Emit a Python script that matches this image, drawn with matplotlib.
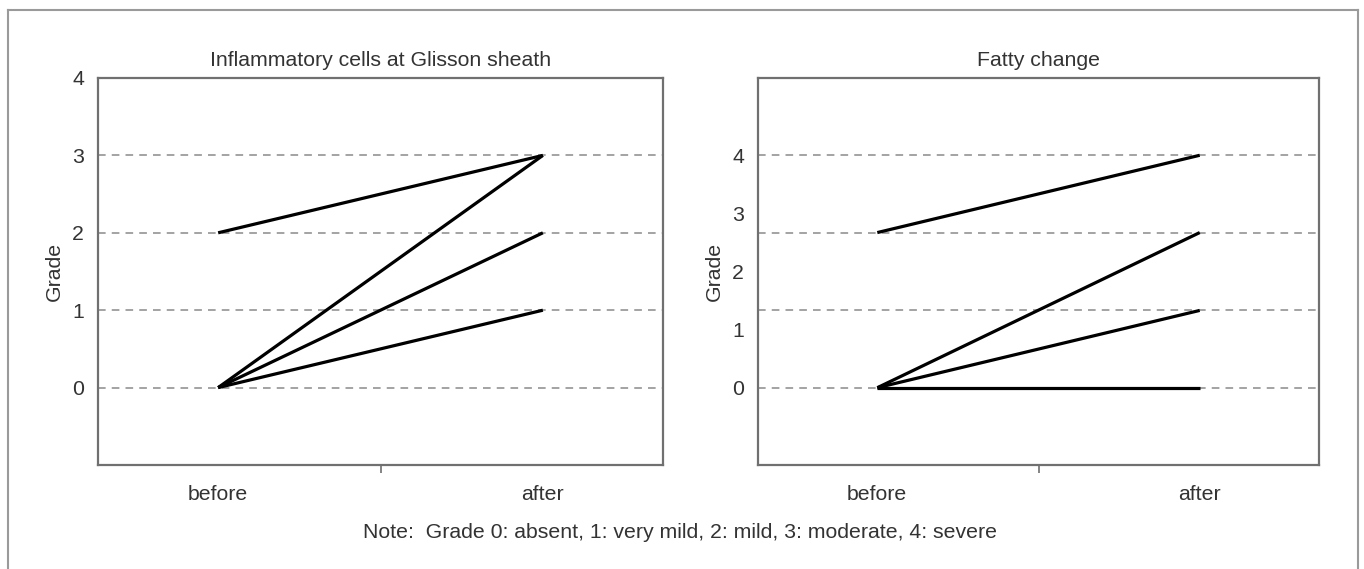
import matplotlib.pyplot as plt
from matplotlib.lines import Line2D

plt.rcParams['font.family'] = ['Liberation Sans', 'DejaVu Sans']

stages = ['before', 'after']

# Inflammatory cells at Glisson sheath (grade)
infl_before = [2, 0, 0, 0]
infl_after = [3, 3, 2, 1]
infl_grid = [0, 1, 2, 3]
infl_ticks = [0, 1, 2, 3, 4]

# Fatty change (read on the printed tick scale, which is offset from the gridlines)
fat_before = [2.67, 0, 0, 0]
fat_after = [4, 2.67, 1.33, 0]
fat_grid = [0, 1.33, 2.67, 4]
fat_ticks = [0, 1, 2, 3, 4]

note = 'Note:  Grade 0: absent, 1: very mild, 2: mild, 3: moderate, 4: severe'

txt = '#333333'
frame = '#707070'
fs = 15.3

fig = plt.figure(figsize=(13.64, 5.69), dpi=100)

# outer frame
W, H = 1364, 569
for xs, ys in [([8, 1358], [559, 559]), ([8, 8], [0, 559]), ([1358, 1358], [0, 559])]:
    fig.add_artist(Line2D([x / W for x in xs], [y / H for y in ys],
                          color='#9a9a9a', lw=1.5))


def panel(rect, title, before, after, grid, ticks, ylim):
    ax = fig.add_axes(rect)
    for b, a in zip(before, after):
        ax.plot([0, 1], [b, a], color='black', lw=2.3, solid_capstyle='butt', zorder=3)
    for g in grid:
        ax.axhline(g, color='#8a8a8a', lw=1.1, ls=(0, (5, 4)), zorder=1)
    ax.set_xlim(-0.37, 1.37)
    ax.set_ylim(*ylim)
    ax.set_yticks(ticks)
    ax.set_yticklabels([str(t) for t in ticks])
    ax.set_xticks([0.5])
    ax.set_xticklabels([''])
    ax.tick_params(axis='x', length=6, color=frame, width=1.2)
    ax.tick_params(axis='y', length=0, pad=10)
    ax.tick_params(labelsize=fs, labelcolor=txt)
    for i, s in enumerate(stages):
        ax.text(i, -0.075, s, transform=ax.get_xaxis_transform(), ha='center', va='center',
                fontsize=fs, color=txt)
    for sp in ax.spines.values():
        sp.set_color(frame)
        sp.set_linewidth(1.6)
    ax.set_ylabel('Grade', fontsize=fs, color=txt, labelpad=6)
    ax.set_title(title, fontsize=fs, color=txt, pad=9)
    return ax


panel([98 / W, 1 - 465 / H, 565 / W, 387 / H], 'Inflammatory cells at Glisson sheath',
      infl_before, infl_after, infl_grid, infl_ticks, (-1, 4))
panel([758 / W, 1 - 465 / H, 561 / W, 387 / H], 'Fatty change',
      fat_before, fat_after, fat_grid, fat_ticks, (-1.33, 5.33))

fig.text(680 / W, 1 - 532 / H, note, ha='center', va='center', fontsize=fs, color=txt)

fig.savefig('out.png', dpi=100)
